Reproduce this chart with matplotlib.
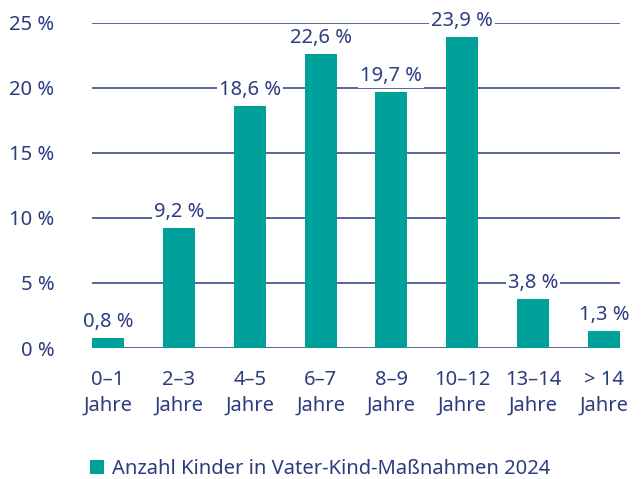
import matplotlib
matplotlib.use("Agg")
import matplotlib.pyplot as plt
from matplotlib.patches import Patch

categories = ["0–1\nJahre", "2–3\nJahre", "4–5\nJahre", "6–7\nJahre",
              "8–9\nJahre", "10–12\nJahre", "13–14\nJahre", "> 14\nJahre"]
values = [0.8, 9.2, 18.6, 22.6, 19.7, 23.9, 3.8, 1.3]
value_labels = ["0,8 %", "9,2 %", "18,6 %", "22,6 %", "19,7 %", "23,9 %", "3,8 %", "1,3 %"]
yticks = [0, 5, 10, 15, 20, 25]
ytick_labels = ["0 %", "5 %", "10 %", "15 %", "20 %", "25 %"]
series_name = "Anzahl Kinder in Vater-Kind-Maßnahmen 2024"

bar_color = "#00a19a"
text_color = "#2d3c7f"
grid_color = "#3b4a8a"
fs = 14.5

plt.rcParams["font.family"] = ["Noto Sans", "DejaVu Sans"]

fig = plt.figure(figsize=(6.41, 4.79), dpi=100)
ax = fig.add_axes([92/641, 1-348/479, (620-92)/641, (348-22.5)/479])

x = list(range(len(values)))
width = 0.45
ax.bar(x, values, width=width, color=bar_color, zorder=3)

ax.set_xlim(-width/2, len(values)-1+width/2)
ax.set_ylim(0, 25)
ax.set_yticks(yticks)
ax.set_yticklabels(ytick_labels)
ax.set_xticks(x)
ax.set_xticklabels(categories, linespacing=1.35)
ax.yaxis.grid(True, color=grid_color, linewidth=1.2, zorder=1)
ax.set_axisbelow(True)
for s in ax.spines.values():
    s.set_visible(False)
ax.tick_params(axis="both", length=0, colors=text_color, labelsize=fs)
ax.tick_params(axis="y", pad=27)
ax.tick_params(axis="x", pad=16)
for lbl in ax.get_yticklabels() + ax.get_xticklabels():
    lbl.set_color(text_color)

for xi, v, t in zip(x, values, value_labels):
    ax.annotate(t, (xi, v), xytext=(0, 16), textcoords="offset pixels",
                ha="center", va="center", fontsize=fs, color=text_color,
                bbox=dict(boxstyle="square,pad=0.1", facecolor="white", edgecolor="none"),
                zorder=4, annotation_clip=False)

handles = [Patch(facecolor=bar_color, edgecolor="none", label=series_name)]
fig.legend(handles=handles, loc="center left", bbox_to_anchor=(72/641, 1-469/479),
           frameon=False, fontsize=fs, labelcolor=text_color,
           handlelength=0.7, handleheight=0.7, handletextpad=0.4)

fig.savefig("out.png", dpi=100, facecolor="white")
